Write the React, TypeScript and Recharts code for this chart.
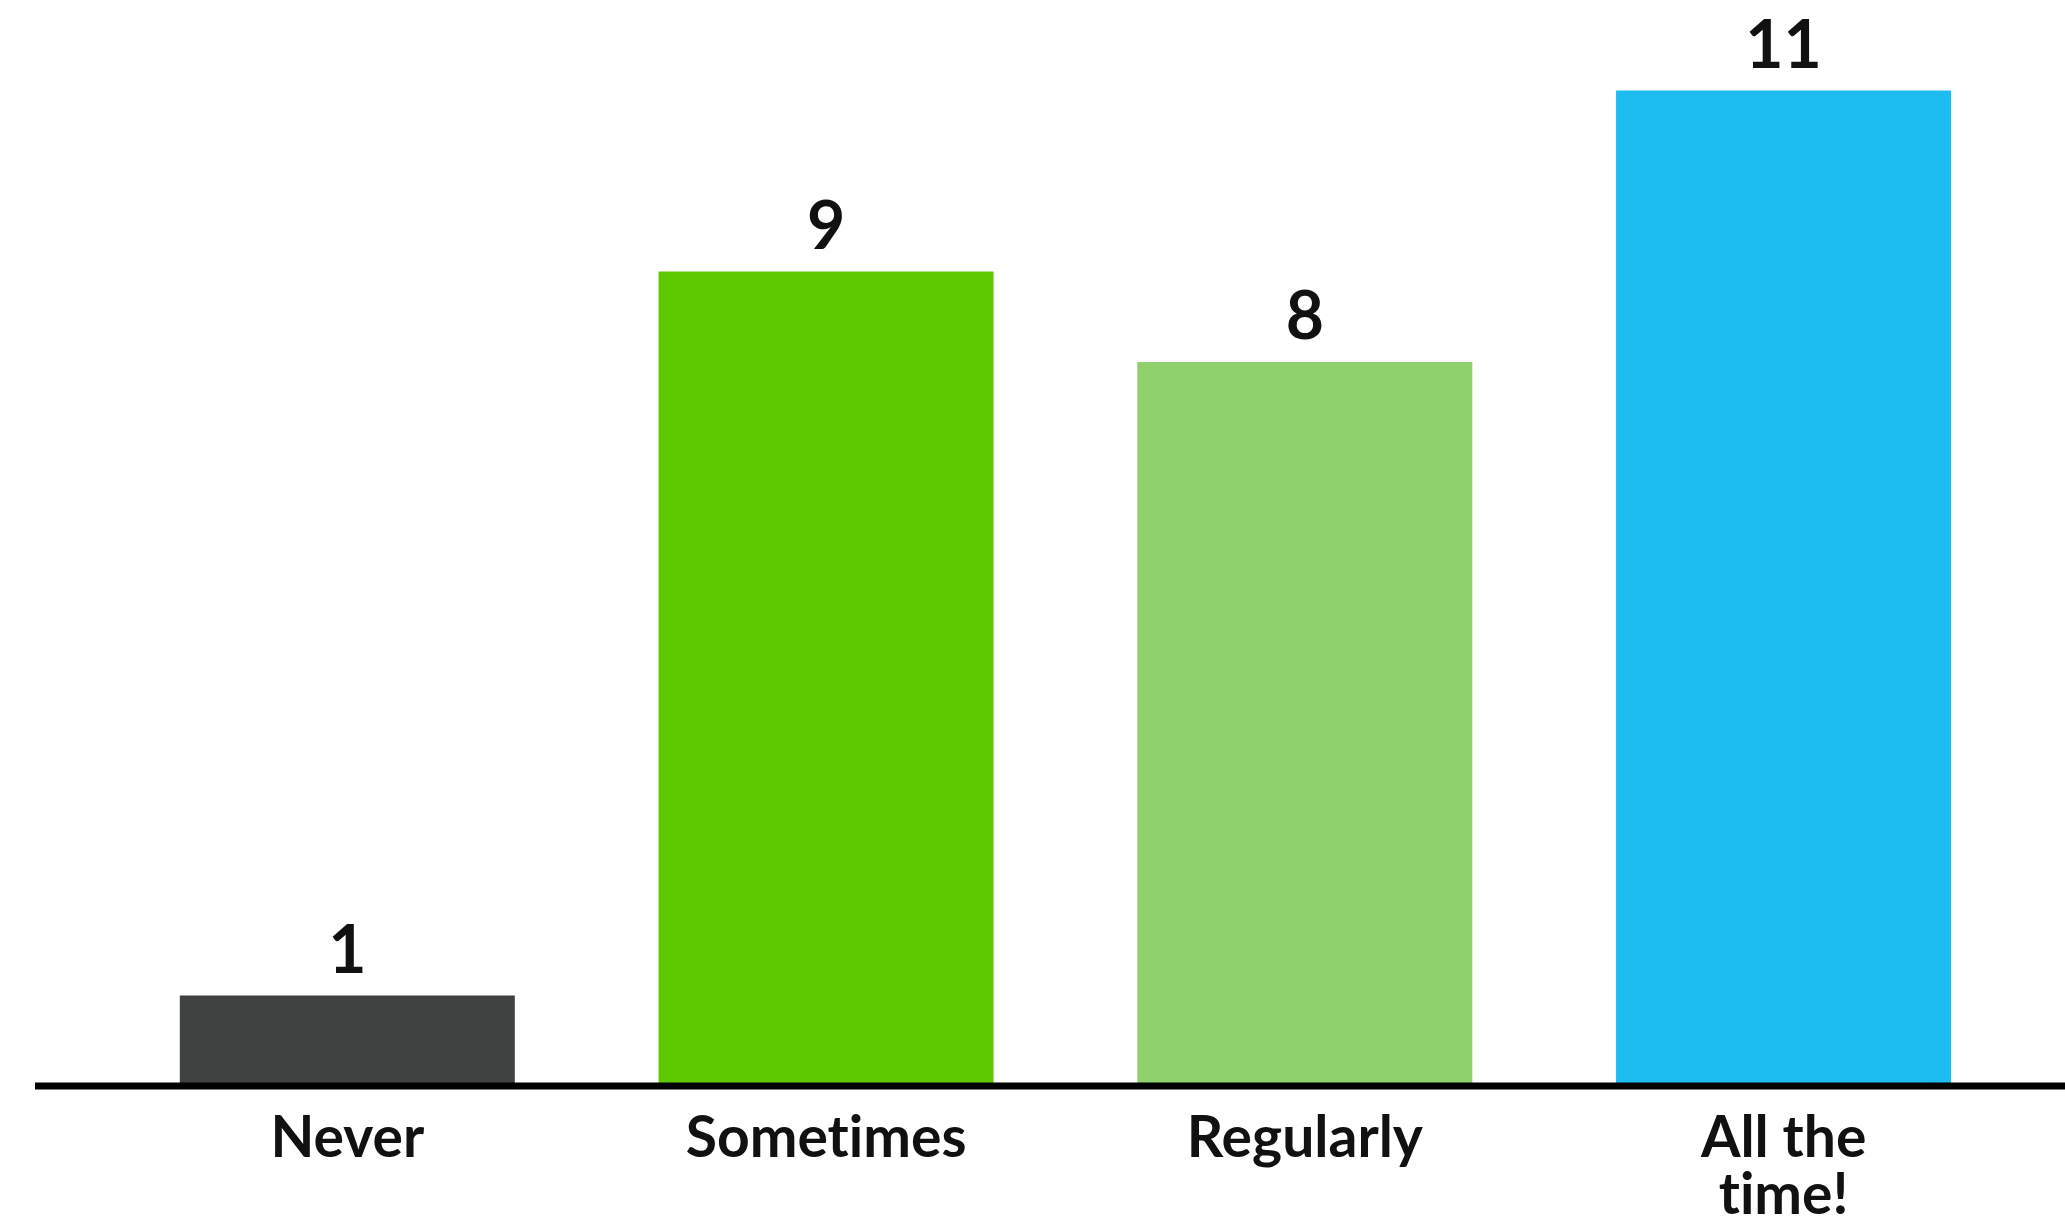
import React from "react";
import { BarChart, Bar, XAxis, YAxis, Cell, LabelList } from "recharts";

const categories = ["Never", "Sometimes", "Regularly", "All the time!"];
const counts = [1, 9, 8, 11];
const barColors = ["#404141", "#5ec800", "#8ed16d", "#1dbcf1"];

const data = categories.map((name, i) => ({ name, count: counts[i] }));

const FONT = "Lato, 'Noto Sans', sans-serif";

// greedy word wrap so long answers break onto a second line
function wrap(text: string, maxChars: number) {
  const lines: string[] = [];
  let cur = "";
  for (const w of text.split(" ")) {
    const next = cur ? cur + " " + w : w;
    if (next.length > maxChars && cur) {
      lines.push(cur);
      cur = w;
    } else {
      cur = next;
    }
  }
  if (cur) lines.push(cur);
  return lines;
}

function CategoryTick({ x, y, payload }: any) {
  const lines = wrap(String(payload.value), 9);
  return (
    <text
      x={x}
      y={y + 63}
      textAnchor="middle"
      fill="#111"
      fontFamily={FONT}
      fontWeight={700}
      fontSize={57}
      style={{ fontVariantLigatures: "none" }}
    >
      {lines.map((line, i) => (
        <tspan key={i} x={x} dy={i === 0 ? 0 : 57}>
          {line}
        </tspan>
      ))}
    </text>
  );
}

export default function App() {
  return (
    <div
      style={{
        position: "fixed",
        left: 0,
        top: 0,
        width: 2065,
        height: 1227,
        background: "#ffffff",
      }}
    >
      <BarChart
        width={2065}
        height={1227}
        data={data}
        margin={{ top: 0, right: 0, bottom: 0, left: 35 }}
        barCategoryGap="15%"
      >
        <XAxis
          dataKey="name"
          height={141}
          padding={{ left: 73, right: 42 }}
          axisLine={{ stroke: "#000", strokeWidth: 7 }}
          tickLine={false}
          interval={0}
          tick={<CategoryTick />}
        />
        <YAxis hide domain={[0, 12]} />
        <Bar dataKey="count" isAnimationActive={false}>
          {data.map((d, i) => (
            <Cell key={d.name} fill={barColors[i]} />
          ))}
          <LabelList
            dataKey="count"
            position="top"
            offset={23}
            fill="#111"
            fontFamily={FONT}
            fontWeight={700}
            fontSize={66}
          />
        </Bar>
      </BarChart>
    </div>
  );
}
